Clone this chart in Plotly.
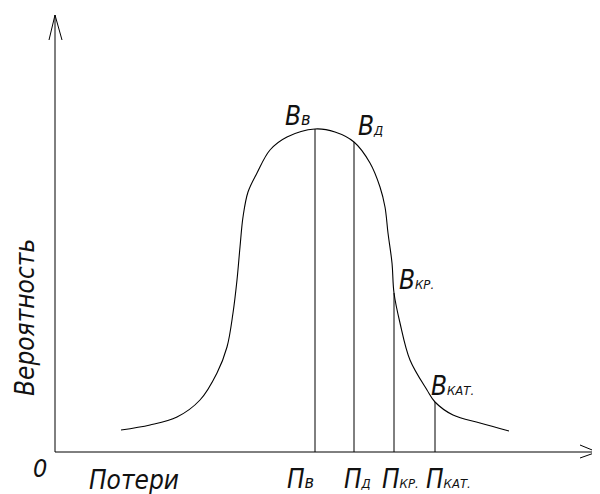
import plotly.graph_objects as go

# curve (loss vs probability, arbitrary units)
loss = [13.2, 19, 24.4, 29, 32.4, 34.4, 35.6, 36.4, 37, 37.6, 38.6, 40.4, 43, 46.4,
        52, 56, 59.8, 63, 65, 66, 66.6, 67.4, 67.8, 69, 71, 74.4, 76, 79.6, 85, 90.8]
prob = [5.5, 6.75, 8.75, 13, 19.75, 26.25, 34.75, 43, 51.25, 58.75, 65, 69.75, 75.5, 78.75,
        80.75, 80, 77.5, 72.25, 66.25, 61.25, 54.75, 47.25, 39.75, 32.25, 23, 15.5, 12.5,
        9.25, 7.25, 5.25]

# marked levels
level_x = [52, 59.8, 67.8, 76]
level_y = [80.75, 77.5, 39.75, 12.5]
p_labels = ["в", "Д", "КР.", "КАТ."]
b_labels = ["в", "Д", "КР.", "КАТ."]

x_end = 108.4
y_end = 109.25

FONT = "Liberation Sans Narrow, DejaVu Sans Condensed, Liberation Sans, sans-serif"

fig = go.Figure()

# curve
fig.add_trace(go.Scatter(x=loss, y=prob, mode="lines",
                         line=dict(color="black", width=1.1, shape="spline", smoothing=1.0),
                         hoverinfo="skip"))

# vertical lines
vx, vy = [], []
for lx, ly in zip(level_x, level_y):
    vx += [lx, lx, None]
    vy += [0, ly, None]
fig.add_trace(go.Scatter(x=vx, y=vy, mode="lines",
                         line=dict(color="black", width=1), hoverinfo="skip"))

# axes with open arrow heads
ax = [0, 0, None, 0, x_end, None,
      -1.2, 0, 1.4, None,
      x_end - 3.4, x_end, x_end - 3.4]
ay = [0, y_end, None, 0, 0, None,
      y_end - 6.25, y_end, y_end - 6.25, None,
      1.75, 0, -1.5]
fig.add_trace(go.Scatter(x=ax, y=ay, mode="lines",
                         line=dict(color="black", width=1), hoverinfo="skip"))


def lab(main, sub, small=13):
    size = small if sub.isupper() or sub.endswith(".") else small + 5
    return f"{main}<span style='font-size:{size}px'>{sub}</span>"


ann = []
txtfont = dict(family=FONT, size=26, color="#111", style="italic")

ann.append(dict(x=-6, y=33.5, text="Вероятность", textangle=-90, showarrow=False,
                font=txtfont, xanchor="center", yanchor="middle"))
ann.append(dict(x=-3, y=-4, text="0", showarrow=False,
                font=dict(txtfont, size=25), xanchor="center", yanchor="middle"))
ann.append(dict(x=6.4, y=-7, text="Потери", showarrow=False,
                font=txtfont, xanchor="left", yanchor="middle"))

p_pos = [46, 57.4, 65, 73.8]
for px_, s in zip(p_pos, p_labels):
    ann.append(dict(x=px_, y=-6.8, text=lab("П", s), showarrow=False,
                    font=txtfont, xanchor="left", yanchor="middle"))

b_pos = [(45.6, 84), (60.2, 81.5), (68.4, 43), (74.8, 16.5)]
for (bx, by), s in zip(b_pos, b_labels):
    ann.append(dict(x=bx, y=by, text=lab("В", s), showarrow=False,
                    font=txtfont, xanchor="left", yanchor="middle"))

# page body has an 8px margin, so the figure is offset by 8px
fig.update_layout(
    width=592, height=486,
    margin=dict(l=0, r=0, t=0, b=0),
    paper_bgcolor="white", plot_bgcolor="white",
    showlegend=False,
    annotations=ann,
    xaxis=dict(range=[-9.4, 109], visible=False, fixedrange=True),
    yaxis=dict(range=[-10.5, 111], visible=False, fixedrange=True),
)

fig.write_html("out.html")
